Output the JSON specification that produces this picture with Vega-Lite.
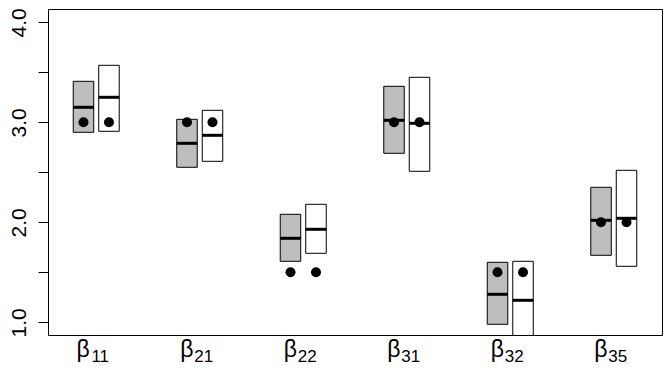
{
  "$schema": "https://vega.github.io/schema/vega-lite/v6.json",
  "width": 614,
  "height": 326,
  "autosize": {"type": "none"},
  "padding": {"left": 48, "top": 9, "right": 10, "bottom": 48},
  "background": "white",
  "config": {
    "view": {"stroke": "black", "strokeWidth": 1},
    "font": "Liberation Sans",
    "axis": {"grid": false, "domain": false, "labelColor": "black", "tickColor": "black", "labelFont": "Liberation Sans"}
  },
  "data": {
    "values": [
      {"param": "11", "method": "A", "lower": 2.90, "upper": 3.41, "median": 3.15, "truth": 3.0},
      {"param": "11", "method": "B", "lower": 2.91, "upper": 3.57, "median": 3.25, "truth": 3.0},
      {"param": "21", "method": "A", "lower": 2.55, "upper": 3.03, "median": 2.79, "truth": 3.0},
      {"param": "21", "method": "B", "lower": 2.61, "upper": 3.12, "median": 2.87, "truth": 3.0},
      {"param": "22", "method": "A", "lower": 1.61, "upper": 2.08, "median": 1.84, "truth": 1.5},
      {"param": "22", "method": "B", "lower": 1.69, "upper": 2.18, "median": 1.93, "truth": 1.5},
      {"param": "31", "method": "A", "lower": 2.69, "upper": 3.36, "median": 3.02, "truth": 3.0},
      {"param": "31", "method": "B", "lower": 2.51, "upper": 3.45, "median": 2.99, "truth": 3.0},
      {"param": "32", "method": "A", "lower": 0.98, "upper": 1.60, "median": 1.28, "truth": 1.5},
      {"param": "32", "method": "B", "lower": 0.85, "upper": 1.61, "median": 1.22, "truth": 1.5},
      {"param": "35", "method": "A", "lower": 1.67, "upper": 2.35, "median": 2.02, "truth": 2.0},
      {"param": "35", "method": "B", "lower": 1.56, "upper": 2.52, "median": 2.04, "truth": 2.0}
    ]
  },
  "encoding": {
    "xOffset": {"field": "method", "type": "nominal", "scale": {"paddingInner": 0.196, "paddingOuter": 0}}
  },
  "layer": [
    {
      "mark": {"type": "bar", "stroke": "black", "strokeWidth": 1, "clip": true},
      "encoding": {
        "x": {
          "field": "param", "type": "nominal", "title": null,
          "scale": {"paddingInner": 0.5556, "paddingOuter": 0.2438},
          "axis": {"labelExpr": "'β'", "labelFontSize": 23, "labelOffset": -13, "labelPadding": 21, "labelBaseline": "alphabetic", "labelAngle": 0, "ticks": false, "tickSize": 0, "orient": "bottom"}
        },
        "y": {
          "field": "lower", "type": "quantitative", "title": null,
          "scale": {"domain": [0.873, 4.133], "nice": false, "zero": false},
          "axis": {
            "values": [1, 1.5, 2, 2.5, 3, 3.5, 4],
            "labelExpr": "datum.value % 1 === 0 ? format(datum.value, '.1f') : ''",
            "labelAngle": -90, "labelAlign": "center", "labelBaseline": "alphabetic",
            "labelPadding": 13, "tickSize": 10, "labelFontSize": 21,
            "labelOverlap": false, "labelFlush": false
          }
        },
        "y2": {"field": "upper"},
        "fill": {"field": "method", "type": "nominal", "scale": {"domain": ["A", "B"], "range": ["#bebebe", "#ffffff"]}, "legend": null}
      }
    },
    {
      "mark": {"type": "tick", "color": "black", "thickness": 3, "size": 20.5, "clip": true, "opacity": 1},
      "encoding": {
        "x": {
          "field": "param", "type": "nominal", "title": null,
          "axis": {"labelExpr": "datum.label", "labelFontSize": 17, "labelOffset": 4, "labelPadding": 26, "labelBaseline": "alphabetic", "labelAngle": 0, "ticks": false, "tickSize": 0, "orient": "bottom"}
        },
        "y": {"field": "median", "type": "quantitative", "title": null}
      }
    },
    {
      "mark": {"type": "point", "filled": true, "color": "black", "size": 100, "opacity": 1},
      "encoding": {
        "x": {"field": "param", "type": "nominal", "title": null, "axis": null},
        "y": {"field": "truth", "type": "quantitative", "title": null}
      }
    }
  ],
  "resolve": {"axis": {"x": "independent"}}
}
